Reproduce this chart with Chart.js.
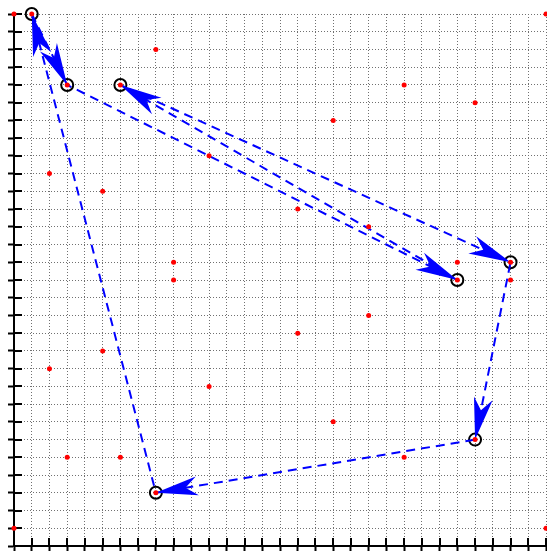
<!DOCTYPE html>
<html>
<head>
<meta charset="utf-8">
<script src="https://cdn.jsdelivr.net/npm/chart.js@4/dist/chart.umd.min.js"></script>
<style>
  html, body { margin: 0; padding: 0; background: #ffffff; }
  #wrap { width: 547px; height: 551px; }
</style>
</head>
<body>
<div id="wrap"><canvas id="c" width="547" height="551"></canvas></div>
<script>
// City coordinates (red dots)
const cityX = [0, 1, 8, 3, 6, 22, 26, 18, 11, 2, 5, 16, 20, 9, 25, 28, 9, 25, 28, 20, 16, 5, 2, 11, 18, 26, 3, 6, 22, 8, 0, 30, 30];
const cityY = [30, 30, 28, 26, 26, 26, 25, 24, 22, 21, 20, 19, 18, 16, 16, 16, 15, 15, 15, 13, 12, 11, 10, 9, 7, 6, 5, 5, 5, 3, 1, 1, 30];

// Tour visiting order (circled cities), closed loop
const tourX = [1, 3, 25, 6, 28, 26, 8, 1];
const tourY = [30, 26, 15, 26, 16, 6, 3, 30];

// Axis range and tick step
const axisMin = 0;
const axisMax = 30;
const tickStep = 1;

const cityPoints = cityX.map((x, i) => ({ x: x, y: cityY[i] }));
const tourPoints = tourX.map((x, i) => ({ x: x, y: tourY[i] }));
const nodePoints = tourPoints.slice(0, tourPoints.length - 1);

function alignPx(p, w) {
  const h = w / 2;
  return Math.round(p - h) + h;
}

const tspPlugin = {
  id: 'tspDecor',
  beforeDatasetsDraw(chart) {
    const ctx = chart.ctx;
    const xs = chart.scales.x, ys = chart.scales.y;
    const area = chart.chartArea;
    ctx.save();
    ctx.strokeStyle = '#000000';
    ctx.lineWidth = 2;
    ctx.beginPath();
    for (let v = axisMin; v <= axisMax; v += tickStep) {
      const px = alignPx(xs.getPixelForValue(v), 2);
      ctx.moveTo(px, area.bottom);
      ctx.lineTo(px, area.bottom - 8);
      const py = alignPx(ys.getPixelForValue(v), 2);
      ctx.moveTo(area.left, py);
      ctx.lineTo(area.left + 8, py);
    }
    ctx.stroke();
    ctx.restore();
  },
  afterDatasetDraw(chart, args) {
    if (args.index !== 1) return;
    const ctx = chart.ctx;
    const xs = chart.scales.x, ys = chart.scales.y;
    ctx.save();
    ctx.fillStyle = '#0000ff';
    for (let i = 0; i < tourPoints.length - 1; i++) {
      const x1 = xs.getPixelForValue(tourPoints[i].x);
      const y1 = ys.getPixelForValue(tourPoints[i].y);
      const x2 = xs.getPixelForValue(tourPoints[i + 1].x);
      const y2 = ys.getPixelForValue(tourPoints[i + 1].y);
      const len = Math.hypot(x2 - x1, y2 - y1);
      const ux = (x2 - x1) / len, uy = (y2 - y1) / len;
      const nx = -uy, ny = ux;
      const back = 42, hw = 9.5, notch = 30;
      ctx.beginPath();
      ctx.moveTo(x2, y2);
      ctx.lineTo(x2 - back * ux + hw * nx, y2 - back * uy + hw * ny);
      ctx.lineTo(x2 - notch * ux, y2 - notch * uy);
      ctx.lineTo(x2 - back * ux - hw * nx, y2 - back * uy - hw * ny);
      ctx.closePath();
      ctx.fill();
    }
    ctx.restore();
  }
};

const scaleCommon = {
  type: 'linear',
  min: axisMin,
  max: axisMax,
  ticks: { display: false, stepSize: tickStep },
  grid: {
    display: true,
    color: '#707070',
    lineWidth: 1,
    drawTicks: true,
    tickLength: 6,
    tickWidth: 2,
    tickColor: '#000000'
  },
  border: { display: true, color: '#000000', width: 2, dash: [1, 2] }
};

new Chart(document.getElementById('c'), {
  type: 'scatter',
  data: {
    datasets: [
      {
        data: cityPoints,
        order: 0,
        pointRadius: 2.5,
        pointBackgroundColor: '#ff0000',
        pointBorderColor: '#ff0000',
        pointBorderWidth: 0,
        clip: false
      },
      {
        data: tourPoints,
        order: 1,
        showLine: true,
        borderColor: '#0000ff',
        borderWidth: 2,
        borderDash: [9, 6],
        pointRadius: 0,
        tension: 0,
        fill: false,
        clip: false
      },
      {
        data: nodePoints,
        order: 2,
        pointRadius: 6,
        pointBackgroundColor: 'rgba(0,0,0,0)',
        pointBorderColor: '#000000',
        pointBorderWidth: 2,
        clip: false
      }
    ]
  },
  options: {
    responsive: false,
    animation: false,
    events: [],
    layout: { autoPadding: false, padding: { top: 14, right: 1, left: 0, bottom: 0 } },
    plugins: { legend: { display: false }, tooltip: { enabled: false }, title: { display: false } },
    scales: {
      x: Object.assign({}, scaleCommon, {
        position: 'bottom',
        afterFit(s) { s.height = 5; }
      }),
      y: Object.assign({}, scaleCommon, {
        position: 'left',
        afterFit(s) { s.width = 14; }
      })
    }
  },
  plugins: [tspPlugin]
});
</script>
</body>
</html>
